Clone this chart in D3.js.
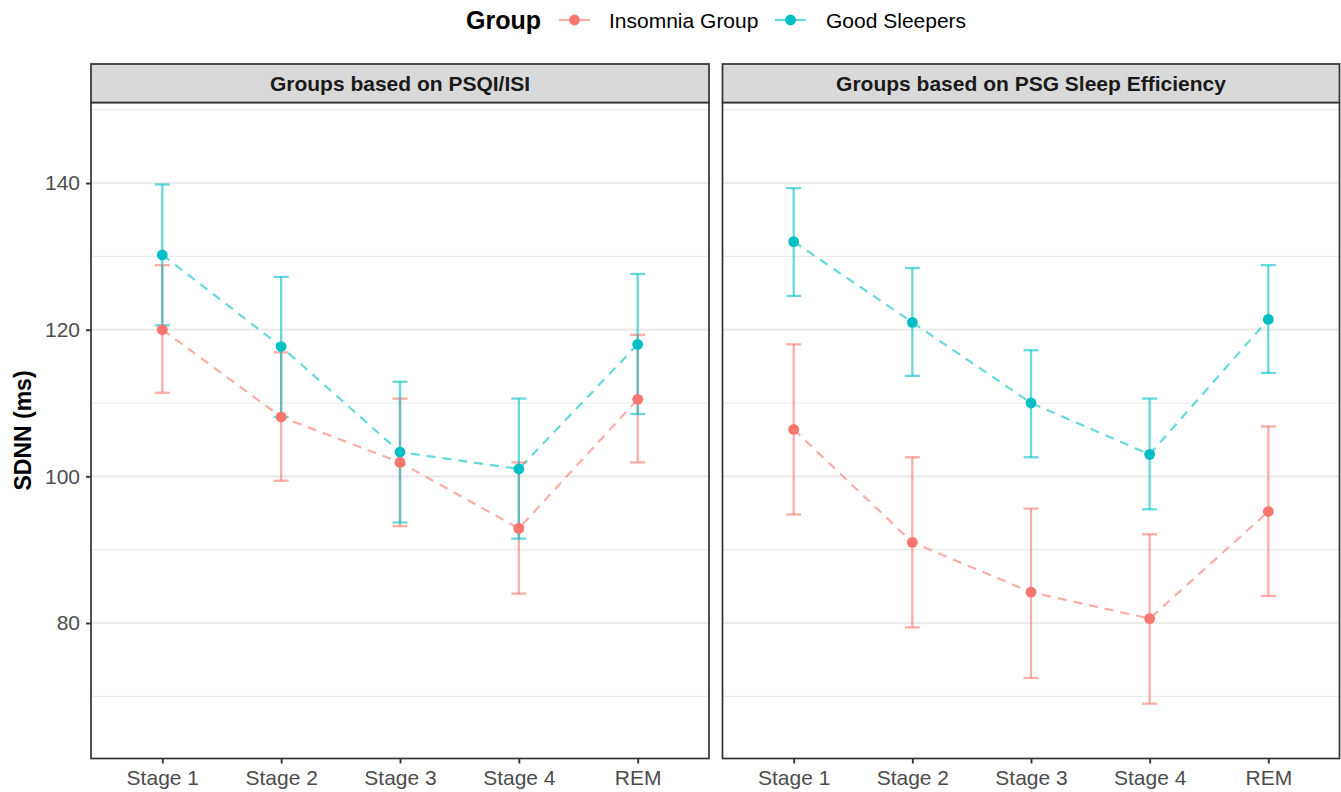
<!DOCTYPE html>
<html>
<head>
<meta charset="utf-8">
<script src="https://cdn.jsdelivr.net/npm/d3@7"></script>
<style>
  html, body { margin: 0; padding: 0; background: #fff; }
  svg { display: block; }
  text { font-family: "Liberation Sans", Arial, Helvetica, sans-serif; }
</style>
</head>
<body>
<svg id="chart" width="1341" height="792"></svg>
<script>
// ---------------- data ----------------
const stages = ["Stage 1", "Stage 2", "Stage 3", "Stage 4", "REM"];
const panelTitles = ["Groups based on PSQI/ISI", "Groups based on PSG Sleep Efficiency"];
const groups = ["Insomnia Group", "Good Sleepers"];
const groupColors = ["#F8766D", "#00BFC4"];
const yTicks = [80, 100, 120, 140];
const yMinor = [70, 90, 110, 130, 150];

// Panel 1: PSQI/ISI
const psqiInsomniaMean = [120.0, 108.1, 101.9, 92.9, 110.5];
const psqiInsomniaLow  = [111.4, 99.4, 93.2, 84.0, 101.9];
const psqiInsomniaHigh = [128.8, 116.9, 110.6, 101.9, 119.3];
const psqiGoodMean = [130.2, 117.7, 103.3, 101.0, 118.0];
const psqiGoodLow  = [120.6, 108.1, 93.7, 91.5, 108.5];
const psqiGoodHigh = [139.8, 127.2, 112.9, 110.6, 127.6];

// Panel 2: PSG Sleep Efficiency
const psgInsomniaMean = [106.4, 91.0, 84.2, 80.6, 95.2];
const psgInsomniaLow  = [94.8, 79.4, 72.5, 69.0, 83.7];
const psgInsomniaHigh = [118.0, 102.6, 95.6, 92.1, 106.8];
const psgGoodMean = [132.0, 121.0, 110.0, 103.0, 121.4];
const psgGoodLow  = [124.6, 113.7, 102.6, 95.5, 114.1];
const psgGoodHigh = [139.3, 128.4, 117.2, 110.6, 128.8];

const panelData = [
  [ {mean: psqiInsomniaMean, low: psqiInsomniaLow, high: psqiInsomniaHigh},
    {mean: psqiGoodMean, low: psqiGoodLow, high: psqiGoodHigh} ],
  [ {mean: psgInsomniaMean, low: psgInsomniaLow, high: psgInsomniaHigh},
    {mean: psgGoodMean, low: psgGoodLow, high: psgGoodHigh} ]
];

// ---------------- layout ----------------
const svg = d3.select("#chart");
const panelX = [[91, 709], [722.5, 1339.5]];
const stripTop = 64, panelTop = 102.5, panelBottom = 758.5;
const y = d3.scaleLinear().domain([61.52, 150.98]).range([panelBottom, panelTop]);

const alphaBar = 0.6;
const FONT = "'Liberation Sans', Arial, sans-serif";

panelTitles.forEach((title, pi) => {
  const [x0, x1] = panelX[pi];
  const x = d3.scalePoint().domain(stages).range([x0, x1]).padding(0.6);
  const g = svg.append("g");

  g.append("rect").attr("x", x0).attr("y", panelTop).attr("width", x1 - x0).attr("height", panelBottom - panelTop).attr("fill", "#fff");

  // minor grid
  g.selectAll(".minor").data(yMinor.filter(v => v >= y.domain()[0] && v <= y.domain()[1])).join("line")
    .attr("x1", x0).attr("x2", x1).attr("y1", d => y(d)).attr("y2", d => y(d))
    .attr("stroke", "#EBEBEB").attr("stroke-width", 1.2);
  // major grid
  g.selectAll(".major").data(yTicks).join("line")
    .attr("x1", x0).attr("x2", x1).attr("y1", d => y(d)).attr("y2", d => y(d))
    .attr("stroke", "#EBEBEB").attr("stroke-width", 2.2);

  // dashed lines
  panelData[pi].forEach((s, gi) => {
    const line = d3.line().x((d, i) => x(stages[i])).y(d => y(d));
    g.append("path").attr("d", line(s.mean)).attr("fill", "none")
      .attr("stroke", groupColors[gi]).attr("stroke-opacity", alphaBar)
      .attr("stroke-width", 2.2).attr("stroke-dasharray", "9,7");
  });

  // error bars
  panelData[pi].forEach((s, gi) => {
    const eb = g.append("g").attr("stroke", groupColors[gi]).attr("stroke-opacity", alphaBar).attr("stroke-width", 2.3);
    stages.forEach((st, i) => {
      const cx = x(st);
      eb.append("line").attr("x1", cx).attr("x2", cx).attr("y1", y(s.low[i])).attr("y2", y(s.high[i]));
      eb.append("line").attr("x1", cx - 7.5).attr("x2", cx + 7.5).attr("y1", y(s.low[i])).attr("y2", y(s.low[i]));
      eb.append("line").attr("x1", cx - 7.5).attr("x2", cx + 7.5).attr("y1", y(s.high[i])).attr("y2", y(s.high[i]));
    });
  });

  // points (good first, insomnia on top)
  [1, 0].forEach(gi => {
    const s = panelData[pi][gi];
    g.selectAll(null).data(s.mean).join("circle")
      .attr("cx", (d, i) => x(stages[i])).attr("cy", d => y(d)).attr("r", 5.4)
      .attr("fill", groupColors[gi]);
  });

  // panel border
  g.append("rect").attr("x", x0).attr("y", panelTop).attr("width", x1 - x0).attr("height", panelBottom - panelTop)
    .attr("fill", "none").attr("stroke", "#333333").attr("stroke-width", 1.7);

  // strip
  g.append("rect").attr("x", x0).attr("y", stripTop).attr("width", x1 - x0).attr("height", panelTop - stripTop)
    .attr("fill", "#D9D9D9").attr("stroke", "#333333").attr("stroke-width", 1.7);
  g.append("text").attr("x", (x0 + x1) / 2).attr("y", (stripTop + panelTop) / 2 + 7.5)
    .attr("text-anchor", "middle").attr("font-size", 21).attr("font-weight", "bold").attr("fill", "#1A1A1A")
    .text(title);

  // x axis
  const xAxis = d3.axisBottom(x).tickSize(5).tickPadding(7);
  const xa = g.append("g").attr("transform", `translate(0,${panelBottom})`).call(xAxis);
  xa.select(".domain").remove();
  xa.selectAll(".tick line").attr("stroke", "#333333").attr("stroke-width", 1.9);
  xa.selectAll(".tick text").attr("font-size", 21).attr("fill", "#4D4D4D").attr("font-family", FONT);

  // y axis on first panel only
  if (pi === 0) {
    const yAxis = d3.axisLeft(y).tickValues(yTicks).tickSize(5).tickPadding(6);
    const ya = g.append("g").attr("transform", `translate(${x0},0)`).call(yAxis);
    ya.select(".domain").remove();
    ya.selectAll(".tick line").attr("stroke", "#333333").attr("stroke-width", 1.9);
    ya.selectAll(".tick text").attr("font-size", 21).attr("fill", "#4D4D4D").attr("font-family", FONT);
  }
});

// y axis title
svg.append("text").attr("transform", `translate(31,${(panelTop + panelBottom) / 2}) rotate(-90)`)
  .attr("text-anchor", "middle").attr("font-size", 23).attr("font-weight", "bold").attr("fill", "#000")
  .text("SDNN (ms)");

// legend
const leg = svg.append("g");
leg.append("text").attr("x", 466).attr("y", 29).attr("font-size", 25).attr("font-weight", "bold").attr("fill", "#000").text("Group");
const keyX = [559, 775], labelX = [609, 826];
groups.forEach((gname, gi) => {
  leg.append("line").attr("x1", keyX[gi]).attr("x2", keyX[gi] + 31).attr("y1", 20).attr("y2", 20)
    .attr("stroke", groupColors[gi]).attr("stroke-opacity", alphaBar).attr("stroke-width", 2.2);
  leg.append("circle").attr("cx", keyX[gi] + 15.5).attr("cy", 20).attr("r", 5.4).attr("fill", groupColors[gi]);
  leg.append("text").attr("x", labelX[gi]).attr("y", 27.5).attr("font-size", 21).attr("fill", "#000").text(gname);
});
</script>
</body>
</html>
